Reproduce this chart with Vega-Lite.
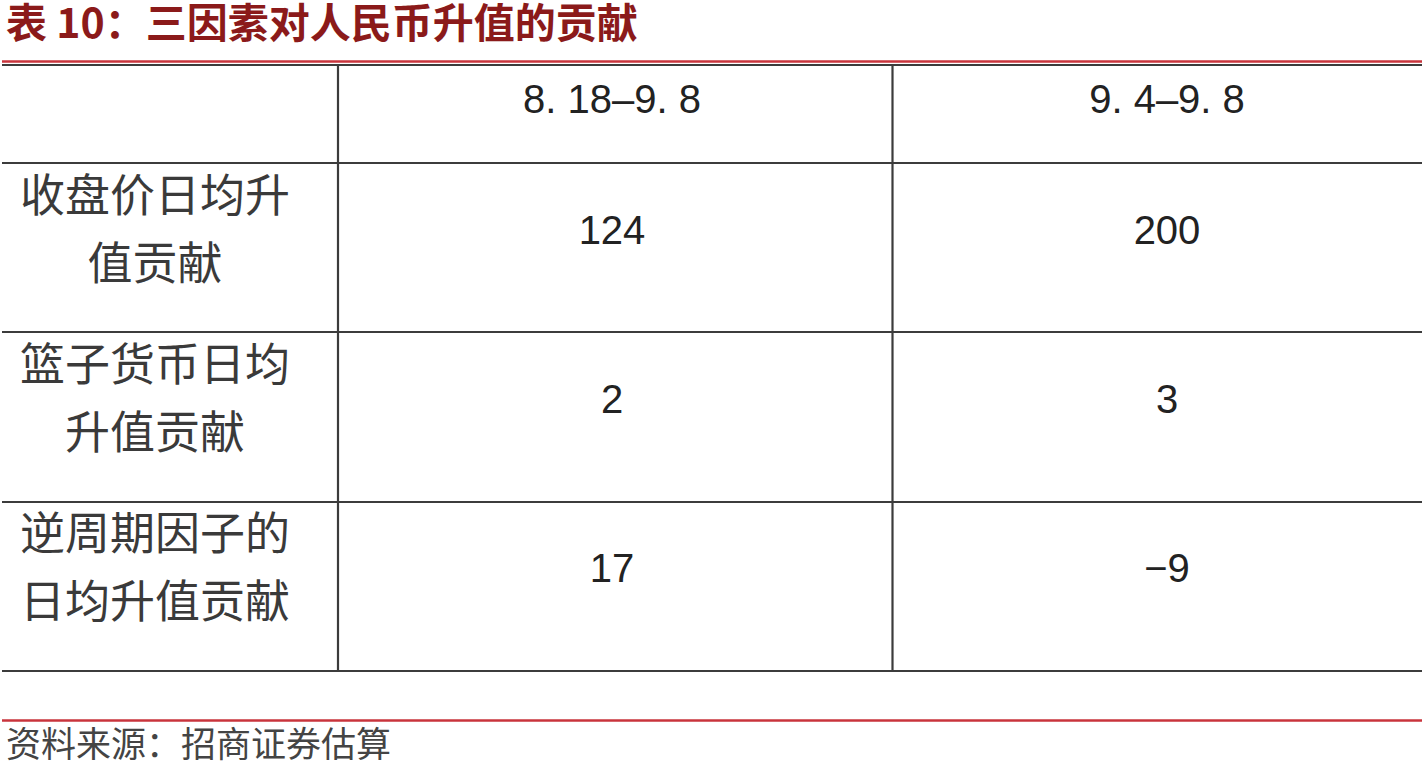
{
  "$schema": "https://vega.github.io/schema/vega-lite/v6.json",
  "width": 1422,
  "height": 769,
  "autosize": {"type": "fit", "contains": "padding"},
  "padding": 0,
  "background": "white",
  "config": {"view": {"stroke": null}},
  "datasets": {
    "periods": [
      {"col": 1, "period": "8. 18–9. 8"},
      {"col": 2, "period": "9. 4–9. 8"}
    ],
    "factors": [
      {"row": 1, "factor": "收盘价日均升\n值贡献"},
      {"row": 2, "factor": "篮子货币日均\n升值贡献"},
      {"row": 3, "factor": "逆周期因子的\n日均升值贡献"}
    ],
    "values": [
      {"row": 1, "col": 1, "value": 124},
      {"row": 1, "col": 2, "value": 200},
      {"row": 2, "col": 1, "value": 2},
      {"row": 2, "col": 2, "value": 3},
      {"row": 3, "col": 1, "value": 17},
      {"row": 3, "col": 2, "value": -9}
    ],
    "grid": [
      {"x0": 0, "x1": 3, "y0": 0, "y1": 0},
      {"x0": 0, "x1": 3, "y0": 1, "y1": 1},
      {"x0": 0, "x1": 3, "y0": 2, "y1": 2},
      {"x0": 0, "x1": 3, "y0": 3, "y1": 3},
      {"x0": 0, "x1": 3, "y0": 4, "y1": 4},
      {"x0": 1, "x1": 1, "y0": 0, "y1": 4},
      {"x0": 2, "x1": 2, "y0": 0, "y1": 4}
    ],
    "redlines": [
      {"edge": 0},
      {"edge": 1}
    ],
    "notes": [
      {"kind": "title", "text": "表 10：三因素对人民币升值的贡献"},
      {"kind": "source", "text": "资料来源：招商证券估算"}
    ]
  },
  "resolve": {"scale": {"x": "independent", "y": "independent"}},
  "layer": [
    {
      "data": {"name": "redlines"},
      "mark": {"type": "rule", "color": "#c9343c", "strokeWidth": 2.5},
      "encoding": {
        "x": {"datum": 0, "type": "quantitative", "axis": null, "scale": {"domain": [0, 1], "range": [0, 1422], "zero": false, "nice": false}},
        "x2": {"datum": 1},
        "y": {"field": "edge", "type": "quantitative", "axis": null, "scale": {"domain": [0, 1], "range": [61.5, 720.5], "zero": false, "nice": false}}
      }
    },
    {
      "data": {"name": "grid"},
      "mark": {"type": "rule", "color": "#3c3c3c", "strokeWidth": 2.2},
      "encoding": {
        "x": {"field": "x0", "type": "quantitative", "axis": null, "scale": {"domain": [0, 1, 2, 3], "range": [0, 336, 890.5, 1422], "zero": false, "nice": false}},
        "x2": {"field": "x1"},
        "y": {"field": "y0", "type": "quantitative", "axis": null, "scale": {"domain": [0, 1, 2, 3, 4], "range": [65, 163, 332, 502, 671], "zero": false, "nice": false}},
        "y2": {"field": "y1"}
      }
    },
    {
      "data": {"name": "periods"},
      "mark": {"type": "text", "align": "center", "baseline": "middle", "font": "Liberation Sans", "fontSize": 40, "color": "#222222"},
      "encoding": {
        "x": {"field": "col", "type": "quantitative", "axis": null, "scale": {"domain": [0, 1, 2], "range": [153, 610, 1165], "zero": false, "nice": false}},
        "y": {"datum": 0, "type": "quantitative", "axis": null, "scale": {"domain": [0, 1, 2, 3], "range": [101, 232, 401, 570], "zero": false, "nice": false}},
        "text": {"field": "period", "type": "nominal"}
      }
    },
    {
      "data": {"name": "factors"},
      "mark": {"type": "text", "align": "center", "baseline": "middle", "font": "Noto Sans CJK SC", "fontSize": 45, "color": "#3a3a3a", "lineBreak": "\n", "lineHeight": 68, "dy": -34},
      "encoding": {
        "x": {"datum": 0, "type": "quantitative", "axis": null, "scale": {"domain": [0, 1, 2], "range": [153, 610, 1165], "zero": false, "nice": false}},
        "y": {"field": "row", "type": "quantitative", "axis": null, "scale": {"domain": [0, 1, 2, 3], "range": [101, 232, 401, 570], "zero": false, "nice": false}},
        "text": {"field": "factor", "type": "nominal"}
      }
    },
    {
      "data": {"name": "values"},
      "mark": {"type": "text", "align": "center", "baseline": "middle", "font": "Liberation Sans", "fontSize": 40, "color": "#222222"},
      "encoding": {
        "x": {"field": "col", "type": "quantitative", "axis": null, "scale": {"domain": [0, 1, 2], "range": [153, 610, 1165], "zero": false, "nice": false}},
        "y": {"field": "row", "type": "quantitative", "axis": null, "scale": {"domain": [0, 1, 2, 3], "range": [101, 232, 401, 570], "zero": false, "nice": false}},
        "text": {"field": "value", "type": "quantitative"}
      }
    },
    {
      "data": {"name": "notes"},
      "transform": [{"filter": "datum.kind === 'title'"}],
      "mark": {"type": "text", "align": "left", "baseline": "middle", "font": "Noto Sans CJK SC", "fontWeight": "bold", "fontSize": 41, "color": "#8b1a1a"},
      "encoding": {
        "x": {"datum": 0, "type": "quantitative", "axis": null, "scale": {"domain": [0, 1], "range": [4, 1422], "zero": false, "nice": false}},
        "y": {"datum": 0, "type": "quantitative", "axis": null, "scale": {"domain": [0, 1], "range": [26, 746], "zero": false, "nice": false}},
        "text": {"field": "text", "type": "nominal"}
      }
    },
    {
      "data": {"name": "notes"},
      "transform": [{"filter": "datum.kind === 'source'"}],
      "mark": {"type": "text", "align": "left", "baseline": "middle", "font": "Noto Sans CJK SC", "fontSize": 35, "color": "#444444"},
      "encoding": {
        "x": {"datum": 0, "type": "quantitative", "axis": null, "scale": {"domain": [0, 1], "range": [4, 1422], "zero": false, "nice": false}},
        "y": {"datum": 1, "type": "quantitative", "axis": null, "scale": {"domain": [0, 1], "range": [26, 746], "zero": false, "nice": false}},
        "text": {"field": "text", "type": "nominal"}
      }
    }
  ]
}
